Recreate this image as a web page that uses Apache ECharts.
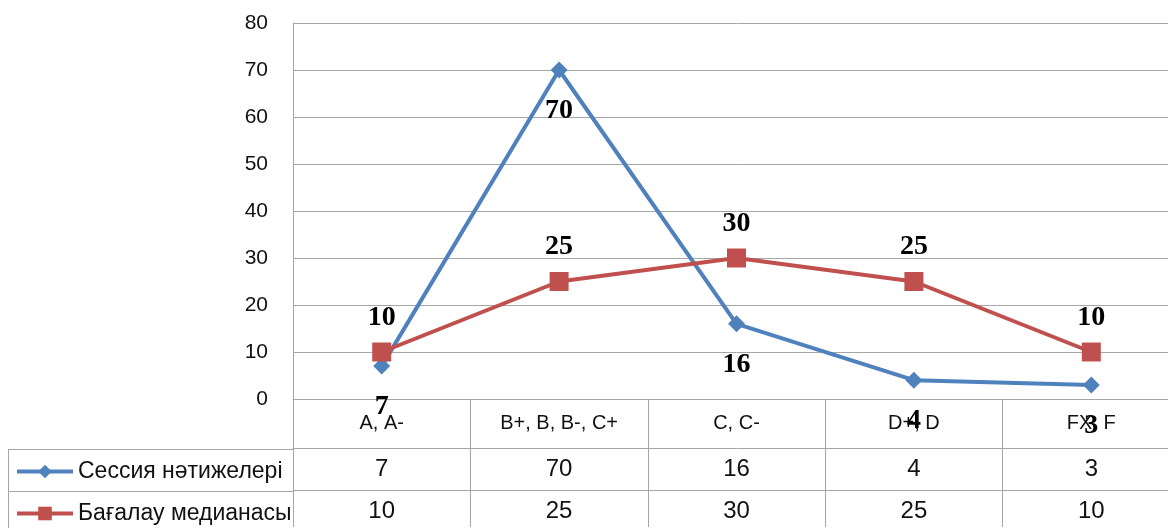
<!DOCTYPE html>
<html lang="kk">
<head>
    <meta charset="UTF-8">
    <title>Сессия нәтижелері</title>
    <script src="https://cdn.jsdelivr.net/npm/echarts@6/dist/echarts.min.js"></script>
    <style>
        html, body {
            margin: 0;
            padding: 0;
            overflow: hidden;
            background: #fff;
        }
        #main {
            width: 1181px;
            height: 528px;
        }
    </style>
</head>
<body>
    <div id="main"></div>
    <script>
        // данные
        var categories = ['A, A-', 'B+, B, B-, C+', 'C, C-', 'D+, D', 'FX, F'];
        var sessionName = 'Сессия нәтижелері';
        var sessionValues = [7, 70, 16, 4, 3];
        var medianName = 'Бағалау медианасы';
        var medianValues = [10, 25, 30, 25, 10];
        var yTicks = [0, 80, 10]; // min, max, interval

        var gridColor = '#a6a6a6';
        var sansFont = 'Liberation Sans';

        var chart = echarts.init(document.getElementById('main'));

        // оси строк таблицы: подписи — значения серий
        function rowAxis(values, offset) {
            return {
                type: 'category',
                position: 'bottom',
                gridIndex: 0,
                offset: offset,
                data: values.map(String),
                axisLine: { show: true, lineStyle: { color: gridColor, width: 1 } },
                axisTick: { show: false },
                axisLabel: { margin: 9, fontSize: 24, color: '#111', fontFamily: sansFont }
            };
        }

        function rowLegend(name, top) {
            return {
                orient: 'horizontal',
                left: 10,
                top: top,
                itemWidth: 56,
                itemHeight: 17,
                lineStyle: { width: 4 },
                textStyle: { fontSize: 23, color: '#111', fontFamily: sansFont },
                data: [name]
            };
        }

        var option = {
            animation: false,
            grid: { left: 293, top: 23, width: 887, height: 376 },
            legend: [
                rowLegend(sessionName, 455),
                rowLegend(medianName, 497)
            ],
            xAxis: [
                {
                    type: 'category',
                    data: categories,
                    axisLine: { show: true, lineStyle: { color: gridColor } },
                    axisTick: { show: true, length: 128, lineStyle: { color: gridColor } },
                    axisLabel: { margin: 14, fontSize: 20, color: '#111', fontFamily: sansFont }
                },
                rowAxis(sessionValues, 49),
                rowAxis(medianValues, 91)
            ],
            yAxis: {
                type: 'value',
                min: yTicks[0],
                max: yTicks[1],
                interval: yTicks[2],
                axisLine: { show: true, lineStyle: { color: gridColor } },
                axisTick: { show: false },
                axisLabel: { margin: 25, fontSize: 21, color: '#111', fontFamily: sansFont },
                splitLine: { lineStyle: { color: gridColor, width: 1 } }
            },
            graphic: [
                { type: 'line', shape: { x1: 8, y1: 449.5, x2: 293, y2: 449.5 }, style: { stroke: gridColor, lineWidth: 1 } },
                { type: 'line', shape: { x1: 8, y1: 491.5, x2: 293, y2: 491.5 }, style: { stroke: gridColor, lineWidth: 1 } },
                { type: 'line', shape: { x1: 8.5, y1: 449, x2: 8.5, y2: 528 }, style: { stroke: gridColor, lineWidth: 1 } }
            ],
            series: [
                {
                    name: sessionName,
                    type: 'line',
                    data: sessionValues,
                    symbol: 'diamond',
                    symbolSize: 17,
                    lineStyle: { color: '#4f81bd', width: 4 },
                    itemStyle: { color: '#4f81bd' },
                    label: {
                        show: true,
                        position: 'bottom',
                        distance: 18,
                        fontSize: 28,
                        fontWeight: 'bold',
                        fontFamily: 'Liberation Serif',
                        color: '#000'
                    }
                },
                {
                    name: medianName,
                    type: 'line',
                    data: medianValues,
                    symbol: 'rect',
                    symbolSize: 19,
                    lineStyle: { color: '#c0504d', width: 4 },
                    itemStyle: { color: '#c0504d' },
                    label: {
                        show: true,
                        position: 'top',
                        distance: 11,
                        fontSize: 28,
                        fontWeight: 'bold',
                        fontFamily: 'Liberation Serif',
                        color: '#000'
                    }
                }
            ]
        };

        chart.setOption(option);
    </script>
</body>
</html>
